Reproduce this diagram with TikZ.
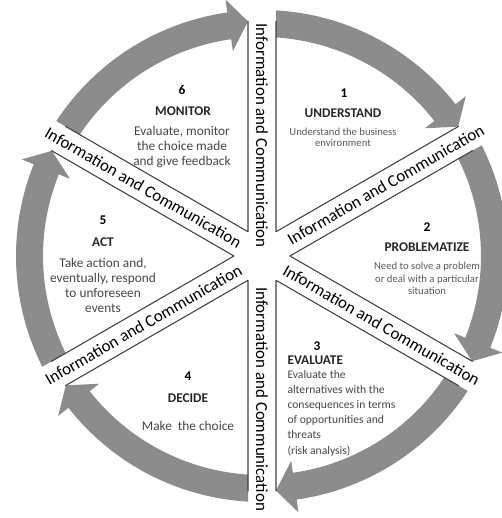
\documentclass[tikz,border=0pt]{standalone}
\usepackage{fontspec}
\setmainfont{Carlito}
\definecolor{arrowgray}{RGB}{140,140,140}
\definecolor{descgray}{RGB}{70,70,70}
\definecolor{lightdesc}{RGB}{90,90,90}
\tikzset{every picture/.style={line width=0.75pt}}
\tikzset{
  edgeline/.style={draw=black!75, line width=0.8pt},
  sectorclip/.style={insert path={(28,0) -- +(-30:400) -- +(30:400) -- cycle}},
  arcarrow/.style={insert path={(-40:219) arc[start angle=-40,end angle=21.9,radius=219] -- (21.9:207) -- (26.6:235) -- (21.9:259) -- (21.9:246) arc[start angle=21.9,end angle=-40,radius=246] -- cycle}},
  sectoredges/.style={insert path={(28,0) -- +(-30:211) (28,0) -- +(30:211)}},
  bandtext/.style={font=\fontsize{12.7}{15}\selectfont, inner sep=0pt},
  numtext/.style={font=\fontsize{10}{12}\selectfont\bfseries, inner sep=0pt},
  titletext/.style={font=\fontsize{10}{12}\selectfont\bfseries, text=black!85, inner sep=0pt},
  smalldesc/.style={font=\fontsize{8}{9.4}\selectfont, text=lightdesc, align=center, inner sep=0pt},
  bigdesc/.style={font=\fontsize{10}{11.25}\selectfont, text=descgray, align=center, inner sep=0pt},
  evaldesc/.style={font=\fontsize{8.7}{11.4}\selectfont, text=descgray, align=left, inner sep=0pt},
}

\begin{document}
\begin{tikzpicture}[x=0.75pt,y=0.75pt,yscale=-1,xscale=1]
\useasboundingbox (0,0) rectangle (501,518);

%Shape: Sector 1 arrow
\begin{scope}[shift={(262,256)},rotate=-60]
\begin{scope} \clip[sectorclip]; \fill[arrowgray,arcarrow]; \end{scope}
\draw[edgeline,sectoredges];
\end{scope}
%Shape: Sector 2 arrow
\begin{scope}[shift={(262,256)},rotate=0]
\begin{scope} \clip[sectorclip]; \fill[arrowgray,arcarrow]; \end{scope}
\draw[edgeline,sectoredges];
\end{scope}
%Shape: Sector 3 arrow
\begin{scope}[shift={(262,256)},rotate=60]
\begin{scope} \clip[sectorclip]; \fill[arrowgray,arcarrow]; \end{scope}
\draw[edgeline,sectoredges];
\end{scope}
%Shape: Sector 4 arrow
\begin{scope}[shift={(262,256)},rotate=120]
\begin{scope} \clip[sectorclip]; \fill[arrowgray,arcarrow]; \end{scope}
\draw[edgeline,sectoredges];
\end{scope}
%Shape: Sector 5 arrow
\begin{scope}[shift={(262,256)},rotate=180]
\begin{scope} \clip[sectorclip]; \fill[arrowgray,arcarrow]; \end{scope}
\draw[edgeline,sectoredges];
\end{scope}
%Shape: Sector 6 arrow
\begin{scope}[shift={(262,256)},rotate=-120]
\begin{scope} \clip[sectorclip]; \fill[arrowgray,arcarrow]; \end{scope}
\draw[edgeline,sectoredges];
\end{scope}

%Text: bands
\node[bandtext,rotate=-90] (infoup) at (262,135.5) {Information and Communication};
\node[bandtext,rotate=30] (infoupright) at (385.8,184.5) {Information and Communication};
\node[bandtext,rotate=-30] (infodownright) at (381.5,325) {Information and Communication};
\node[bandtext,rotate=-90] (infodown) at (262,399) {Information and Communication};
\node[bandtext,rotate=30] (infodownleft) at (143.4,324.5) {Information and Communication};
\node[bandtext,rotate=-30] (infoupleft) at (143.4,187.5) {Information and Communication};

%Text: sector 1
\node[numtext] (num1) at (344,93) {1};
\node[titletext] (title1) at (343,113) {UNDERSTAND};
\node[smalldesc,font=\fontsize{8}{8.3}\selectfont] (desc1) at (343,137.5) {Understand the business\\environment};
%Text: sector 2
\node[numtext] (num2) at (427,227) {2};
\node[titletext] (title2) at (427,247) {PROBLEMATIZE};
\node[smalldesc] (desc2) at (427,278.7) {Need to solve a problem\\or deal with a particular\\situation};
%Text: sector 3
\node[numtext] (num3) at (317,346) {3};
\node[titletext,anchor=west] (title3) at (287,360) {EVALUATE};
\node[evaldesc,anchor=west] (desc3) at (287,413) {Evaluate the\\alternatives with the\\consequences in terms\\of opportunities and\\threats\\(risk analysis)};
%Text: sector 4
\node[numtext] (num4) at (188,376) {4};
\node[titletext] (title4) at (188,398) {DECIDE};
\node[bigdesc] (desc4) at (188,426) {Make\ \ the choice};
%Text: sector 5
\node[numtext] (num5) at (103,220) {5};
\node[titletext] (title5) at (103,242) {ACT};
\node[bigdesc] (desc5) at (103,285.5) {Take action and,\\eventually, respond\\to unforeseen\\events};
%Text: sector 6
\node[numtext] (num6) at (182,90) {6};
\node[titletext] (title6) at (183,111) {MONITOR};
\node[bigdesc] (desc6) at (182,147) {Evaluate, monitor\\the choice made\\and give feedback};

\end{tikzpicture}
\end{document}
